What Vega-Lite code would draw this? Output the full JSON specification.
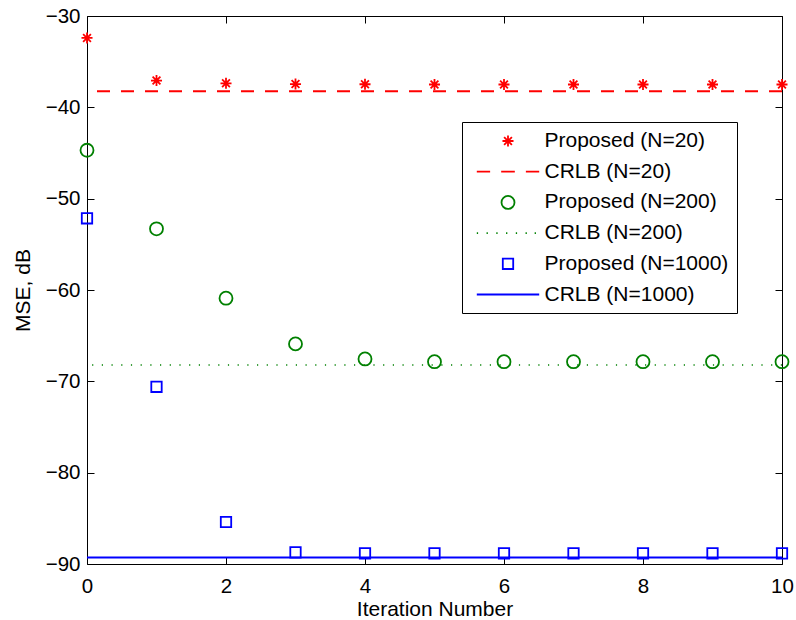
{
  "$schema": "https://vega.github.io/schema/vega-lite/v6.json",
  "width": 695,
  "height": 548,
  "autosize": "none",
  "padding": {"left": 87, "top": 16, "right": 14, "bottom": 56},
  "background": "white",
  "config": {
    "font": "Liberation Sans",
    "view": {"stroke": "black", "strokeWidth": 1},
    "axis": {
      "grid": false,
      "domain": false,
      "tickColor": "black",
      "tickSize": -7,
      "tickWidth": 1,
      "labelColor": "black",
      "labelFontSize": 20.5,
      "labelFont": "Liberation Sans",
      "titleFont": "Liberation Sans",
      "titleFontSize": 21,
      "titleFontWeight": "normal",
      "titleColor": "black"
    }
  },
  "datasets": {
    "main": [
      {"series": "Proposed (N=20)", "kind": "Proposed", "iter": 0, "mse": -32.4},
      {"series": "Proposed (N=20)", "kind": "Proposed", "iter": 1, "mse": -37.07},
      {"series": "Proposed (N=20)", "kind": "Proposed", "iter": 2, "mse": -37.37},
      {"series": "Proposed (N=20)", "kind": "Proposed", "iter": 3, "mse": -37.45},
      {"series": "Proposed (N=20)", "kind": "Proposed", "iter": 4, "mse": -37.47},
      {"series": "Proposed (N=20)", "kind": "Proposed", "iter": 5, "mse": -37.5},
      {"series": "Proposed (N=20)", "kind": "Proposed", "iter": 6, "mse": -37.5},
      {"series": "Proposed (N=20)", "kind": "Proposed", "iter": 7, "mse": -37.5},
      {"series": "Proposed (N=20)", "kind": "Proposed", "iter": 8, "mse": -37.5},
      {"series": "Proposed (N=20)", "kind": "Proposed", "iter": 9, "mse": -37.5},
      {"series": "Proposed (N=20)", "kind": "Proposed", "iter": 10, "mse": -37.5},
      {"series": "CRLB (N=20)", "kind": "CRLB", "iter": 0, "mse": -38.23},
      {"series": "Proposed (N=200)", "kind": "Proposed", "iter": 0, "mse": -44.7},
      {"series": "Proposed (N=200)", "kind": "Proposed", "iter": 1, "mse": -53.3},
      {"series": "Proposed (N=200)", "kind": "Proposed", "iter": 2, "mse": -60.9},
      {"series": "Proposed (N=200)", "kind": "Proposed", "iter": 3, "mse": -65.9},
      {"series": "Proposed (N=200)", "kind": "Proposed", "iter": 4, "mse": -67.55},
      {"series": "Proposed (N=200)", "kind": "Proposed", "iter": 5, "mse": -67.85},
      {"series": "Proposed (N=200)", "kind": "Proposed", "iter": 6, "mse": -67.85},
      {"series": "Proposed (N=200)", "kind": "Proposed", "iter": 7, "mse": -67.85},
      {"series": "Proposed (N=200)", "kind": "Proposed", "iter": 8, "mse": -67.85},
      {"series": "Proposed (N=200)", "kind": "Proposed", "iter": 9, "mse": -67.85},
      {"series": "Proposed (N=200)", "kind": "Proposed", "iter": 10, "mse": -67.85},
      {"series": "CRLB (N=200)", "kind": "CRLB", "iter": 0, "mse": -68.2},
      {"series": "Proposed (N=1000)", "kind": "Proposed", "iter": 0, "mse": -52.15},
      {"series": "Proposed (N=1000)", "kind": "Proposed", "iter": 1, "mse": -70.6},
      {"series": "Proposed (N=1000)", "kind": "Proposed", "iter": 2, "mse": -85.4},
      {"series": "Proposed (N=1000)", "kind": "Proposed", "iter": 3, "mse": -88.73},
      {"series": "Proposed (N=1000)", "kind": "Proposed", "iter": 4, "mse": -88.84},
      {"series": "Proposed (N=1000)", "kind": "Proposed", "iter": 5, "mse": -88.84},
      {"series": "Proposed (N=1000)", "kind": "Proposed", "iter": 6, "mse": -88.84},
      {"series": "Proposed (N=1000)", "kind": "Proposed", "iter": 7, "mse": -88.84},
      {"series": "Proposed (N=1000)", "kind": "Proposed", "iter": 8, "mse": -88.84},
      {"series": "Proposed (N=1000)", "kind": "Proposed", "iter": 9, "mse": -88.84},
      {"series": "Proposed (N=1000)", "kind": "Proposed", "iter": 10, "mse": -88.84},
      {"series": "CRLB (N=1000)", "kind": "CRLB", "iter": 0, "mse": -89.3}
    ]
  },
  "data": {"name": "main"},
  "resolve": {"axis": {"x": "independent", "y": "independent"}},
  "layer": [
    {
      "transform": [{"filter": "datum.series === 'CRLB (N=20)'"}],
      "mark": {"type": "rule", "color": "#ff0000", "strokeWidth": 2, "strokeDash": [13, 11]},
      "encoding": {
        "y": {"field": "mse", "type": "quantitative", "axis": null, "scale": {"domain": [-90, -30], "nice": false}}
      }
    },
    {
      "transform": [{"filter": "datum.series === 'CRLB (N=200)'"}],
      "mark": {"type": "rule", "color": "#008000", "strokeWidth": 1.5, "strokeDash": [1.2, 8.5]},
      "encoding": {
        "y": {"field": "mse", "type": "quantitative", "axis": null}
      }
    },
    {
      "transform": [{"filter": "datum.series === 'CRLB (N=1000)'"}],
      "mark": {"type": "rule", "color": "#0000ff", "strokeWidth": 2},
      "encoding": {
        "y": {"field": "mse", "type": "quantitative", "axis": null}
      }
    },
    {
      "transform": [{"filter": "datum.kind === 'Proposed'"}],
      "mark": {"type": "point", "filled": false, "strokeWidth": 1.8, "size": 169, "opacity": 1},
      "encoding": {
        "x": {
          "field": "iter", "type": "quantitative",
          "scale": {"domain": [0, 10], "nice": false},
          "axis": {"orient": "bottom", "values": [0, 2, 4, 6, 8, 10], "title": "Iteration Number", "labelPadding": 19, "titlePadding": 2, "labelFlush": false}
        },
        "y": {
          "field": "mse", "type": "quantitative",
          "scale": {"domain": [-90, -30], "nice": false},
          "axis": {"orient": "left", "values": [-90, -80, -70, -60, -50, -40, -30], "title": "MSE, dB", "labelPadding": 14, "titlePadding": 12, "labelFlush": false}
        },
        "color": {
          "field": "series", "type": "nominal",
          "scale": {
            "domain": ["Proposed (N=20)", "CRLB (N=20)", "Proposed (N=200)", "CRLB (N=200)", "Proposed (N=1000)", "CRLB (N=1000)"],
            "range": ["#ff0000", "#ff0000", "#008000", "#008000", "#0000ff", "#0000ff"]
          },
          "legend": {
            "title": null,
            "orient": "none",
            "legendX": 375,
            "legendY": 106,
            "strokeColor": "black",
            "fillColor": "white",
            "padding": 8.5,
            "rowPadding": 8.7,
            "labelFontSize": 21,
            "labelFont": "Liberation Sans",
            "labelColor": "black",
            "labelLimit": 0,
            "symbolSize": 169,
            "symbolStrokeWidth": 1.8,
            "symbolFillColor": "transparent",
            "symbolOffset": 27,
            "labelOffset": 26
          }
        },
        "shape": {
          "field": "series", "type": "nominal",
          "scale": {
            "domain": ["Proposed (N=20)", "CRLB (N=20)", "Proposed (N=200)", "CRLB (N=200)", "Proposed (N=1000)", "CRLB (N=1000)"],
            "range": [
              "M-0.85,0L0.85,0M0,-0.85L0,0.85M-0.6,-0.6L0.6,0.6M-0.6,0.6L0.6,-0.6",
              "M-4.8,0L-2.75,0M-1.05,0L1.05,0M2.75,0L4.8,0",
              "M1,0A1,1,0,1,1,-1,0A1,1,0,1,1,1,0",
              "M-4.8,0L-4.6,0M-3.3,0L-3.1,0M-1.8,0L-1.6,0M-0.3,0L-0.1,0M1.2,0L1.4,0M2.7,0L2.9,0M4.1,0L4.3,0",
              "M-0.8,-0.8L0.8,-0.8L0.8,0.8L-0.8,0.8Z",
              "M-4.8,0L4.8,0"
            ]
          }
        }
      }
    },
    {
      "transform": [{"filter": "datum.kind === 'Proposed'"}],
      "mark": {"type": "point", "opacity": 0},
      "encoding": {
        "x": {
          "field": "iter", "type": "quantitative",
          "axis": {"orient": "top", "values": [0, 2, 4, 6, 8, 10], "labels": false, "title": null}
        },
        "y": {
          "field": "mse", "type": "quantitative",
          "axis": {"orient": "right", "values": [-90, -80, -70, -60, -50, -40, -30], "labels": false, "title": null}
        }
      }
    }
  ]
}
